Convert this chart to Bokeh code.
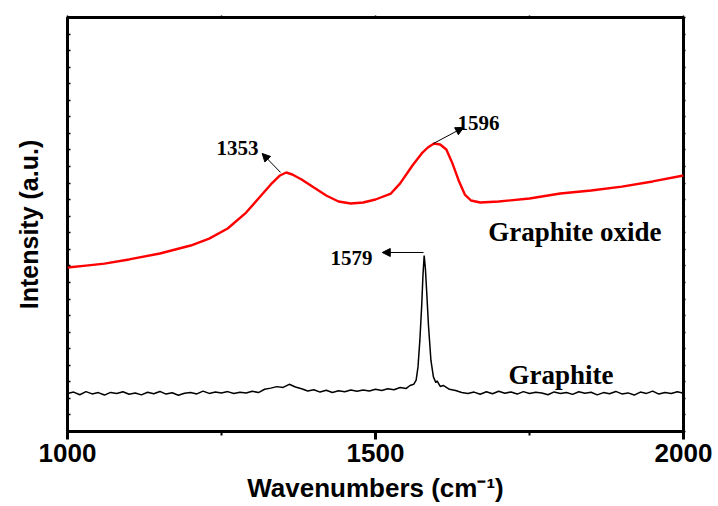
from bokeh.plotting import figure
from bokeh.models import (Range1d, LinearAxis, FixedTicker, Label, Arrow,
                          NormalHead, CustomJSTickFormatter)
from bokeh.embed import file_html
from bokeh.resources import INLINE

# ---------------- data ----------------
# Graphite oxide (red)
go_x = [1000, 1030, 1060, 1100, 1150, 1200, 1230, 1260, 1290, 1310, 1330,
        1345, 1355, 1365, 1380, 1400, 1420, 1440, 1460, 1480, 1500, 1525,
        1540, 1560, 1575, 1585, 1595, 1605, 1615, 1625, 1635, 1645, 1655,
        1670, 1700, 1750, 1800, 1850, 1900, 1950, 2000]
go_y = [9.90, 10.02, 10.14, 10.39, 10.75, 11.23, 11.65, 12.26, 13.22, 14.07,
        14.92, 15.46, 15.64, 15.52, 15.22, 14.73, 14.25, 13.89, 13.77, 13.83,
        14.01, 14.37, 14.98, 16.06, 16.79, 17.15, 17.39, 17.33, 17.03, 16.18,
        15.16, 14.31, 13.95, 13.83, 13.89, 14.07, 14.37, 14.55, 14.79, 15.10,
        15.46]

# Graphite (black)
gr_x = [1000, 1010, 1020, 1030, 1040, 1050, 1060, 1070, 1080, 1090, 1100,
        1110, 1120, 1130, 1140, 1150, 1160, 1170, 1180, 1190, 1200, 1210,
        1220, 1230, 1240, 1250, 1260, 1270, 1280, 1290, 1300, 1310, 1320,
        1330, 1340, 1350, 1360, 1370, 1380, 1390, 1400, 1410, 1420, 1430,
        1440, 1450, 1460, 1470, 1480, 1490, 1500, 1510, 1520, 1530, 1540,
        1550, 1556, 1562, 1566, 1569, 1572, 1575, 1577, 1579, 1581, 1583,
        1586, 1590, 1594, 1598, 1600, 1605, 1610, 1620, 1630, 1640, 1650,
        1660, 1670, 1680, 1690, 1700, 1710, 1720, 1730, 1740, 1750, 1760,
        1770, 1780, 1790, 1800, 1810, 1820, 1830, 1840, 1850, 1860, 1870,
        1880, 1890, 1900, 1910, 1920, 1930, 1940, 1950, 1960, 1970, 1980,
        1990, 2000]
gr_y = [2.30, 2.38, 2.22, 2.41, 2.27, 2.35, 2.20, 2.36, 2.29, 2.40, 2.25,
        2.33, 2.21, 2.37, 2.28, 2.42, 2.26, 2.34, 2.19, 2.31, 2.36, 2.27,
        2.44, 2.30, 2.38, 2.33, 2.41, 2.29, 2.37, 2.32, 2.43, 2.35, 2.55,
        2.62, 2.71, 2.66, 2.85, 2.69, 2.58, 2.45, 2.52, 2.38, 2.49, 2.36,
        2.46, 2.40, 2.51, 2.43, 2.50, 2.45, 2.55, 2.48, 2.58, 2.52, 2.66,
        2.60, 2.78, 2.85, 3.10, 3.90, 5.50, 7.60, 9.40, 10.63, 9.84, 8.50,
        6.40, 4.29, 3.30, 2.95, 3.05, 2.72, 2.78, 2.55, 2.48, 2.36, 2.30,
        2.38, 2.25, 2.40, 2.28, 2.43, 2.31, 2.39, 2.26, 2.41, 2.29, 2.37,
        2.33, 2.22, 2.39, 2.30, 2.36, 2.24, 2.40, 2.31, 2.37, 2.21, 2.35,
        2.28, 2.42, 2.27, 2.33, 2.20, 2.38, 2.30, 2.44, 2.26, 2.35, 2.29,
        2.40, 2.31]

# axis ticks and titles
x_major_ticks = [1000, 1500, 2000]
x_minor_ticks = [1250, 1750]
y_ticks = list(range(0, 26))
x_title = "Wavenumbers (cm\u207b\u00b9)"
y_title = "Intensity (a.u.)"

# peak annotations: label, arrow tail (on curve), arrow head, label anchor
peak_labels = ["1353", "1596", "1579"]
arrow_x0 = [1346, 1594, 1578]
arrow_y0 = [15.64, 17.39, 10.81]
arrow_x1 = [1316, 1643, 1511]
arrow_y1 = [16.79, 18.36, 10.81]
label_x = [1242, 1633, 1495]
label_y = [17.09, 18.60, 10.45]
label_align = ["left", "left", "right"]

series_names = ["Graphite oxide", "Graphite"]
series_label_x = [1683, 1716]
series_label_y = [12.03, 3.44]

# ---------------- figure ----------------
W, H = 716, 505
p = figure(width=W, height=H, output_backend="svg", toolbar_location=None,
           x_range=Range1d(1000, 2000), y_range=Range1d(0, 25),
           min_border_left=67, min_border_right=W - 683, min_border_top=17,
           min_border_bottom=H - 431)
p.xgrid.visible = False
p.ygrid.visible = False
p.outline_line_color = "black"
p.outline_line_width = 3
p.background_fill_color = "white"
p.border_fill_color = "white"

empty = CustomJSTickFormatter(code="return ''")

xa = p.xaxis[0]
xa.ticker = FixedTicker(ticks=x_major_ticks, minor_ticks=x_minor_ticks)
xa.axis_line_color = None
xa.major_tick_in = 0
xa.major_tick_out = 8
xa.minor_tick_in = 0
xa.minor_tick_out = 4
xa.major_tick_line_width = 3
xa.minor_tick_line_width = 2
xa.major_label_standoff = 4
xa.major_label_text_font = "Liberation Sans"
xa.major_label_text_font_style = "bold"
xa.major_label_text_font_size = "26px"
xa.major_label_text_color = "black"
xa.axis_label = x_title
xa.axis_label_text_font = "Liberation Sans"
xa.axis_label_text_font_style = "bold"
xa.axis_label_text_font_size = "26px"
xa.axis_label_text_color = "black"
xa.axis_label_standoff = 8

ya = p.yaxis[0]
ya.ticker = FixedTicker(ticks=y_ticks)
ya.formatter = empty
ya.axis_line_color = None
ya.major_tick_in = 3
ya.major_tick_out = 0
ya.major_tick_line_width = 1.5
ya.minor_tick_line_color = None
ya.major_label_standoff = 0
ya.major_label_text_font_size = "0px"
ya.axis_label = y_title
ya.axis_label_text_font = "Liberation Sans"
ya.axis_label_text_font_style = "bold"
ya.axis_label_text_font_size = "25px"
ya.axis_label_text_color = "black"
ya.axis_label_standoff = 25

top = LinearAxis(ticker=FixedTicker(ticks=x_major_ticks, minor_ticks=x_minor_ticks),
                 formatter=empty, axis_line_color=None,
                 major_tick_in=0, major_tick_out=2, minor_tick_in=0, minor_tick_out=2,
                 major_tick_line_width=1.5, minor_tick_line_width=1.5,
                 major_label_standoff=0, major_label_text_font_size="0px")
p.add_layout(top, "above")
right = LinearAxis(ticker=FixedTicker(ticks=y_ticks), formatter=empty,
                   axis_line_color=None, major_tick_in=0, major_tick_out=2,
                   major_tick_line_width=1.5, minor_tick_line_color=None,
                   major_label_standoff=0, major_label_text_font_size="0px")
p.add_layout(right, "right")

# ---------------- curves ----------------
p.line(go_x, go_y, line_color="#ff0000", line_width=2.4)
p.line(gr_x, gr_y, line_color="black", line_width=1.5)

# ---------------- annotations ----------------
for i in range(len(peak_labels)):
    p.add_layout(Arrow(end=NormalHead(size=8, fill_color="black", line_color="black"),
                       x_start=arrow_x0[i], y_start=arrow_y0[i],
                       x_end=arrow_x1[i], y_end=arrow_y1[i],
                       line_color="black", line_width=1))
    p.add_layout(Label(x=label_x[i], y=label_y[i], text=peak_labels[i],
                       text_font="Liberation Serif", text_font_style="bold",
                       text_font_size="21px", text_align=label_align[i],
                       text_baseline="alphabetic", text_color="black"))

for i in range(len(series_names)):
    p.add_layout(Label(x=series_label_x[i], y=series_label_y[i], text=series_names[i],
                       text_font="Liberation Serif", text_font_style="bold",
                       text_font_size="27px", text_align="left",
                       text_baseline="alphabetic", text_color="black"))

open("out.html", "w").write(file_html(p, INLINE))
